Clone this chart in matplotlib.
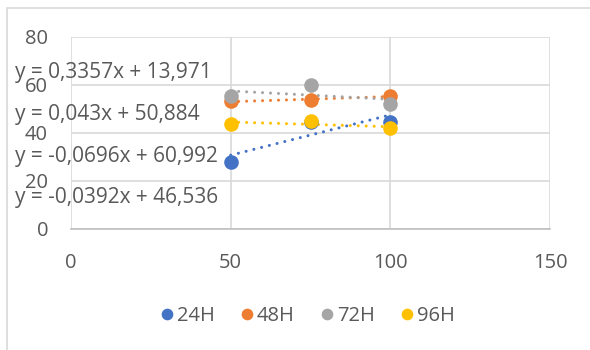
import matplotlib.pyplot as plt
import numpy as np
from matplotlib.patches import Rectangle

# dose levels and readings per exposure time
x = [50, 75, 100]
series = ['24H', '48H', '72H', '96H']
y24 = [28.0, 44.66, 44.785]
y48 = [53.29, 53.597, 55.44]
y72 = [55.4, 59.996, 51.92]
y96 = [43.874, 45.0, 41.914]
colors = ['#4472c4', '#ed7d31', '#a5a5a5', '#ffc000']

# trendline label heights (data units) as laid out on the chart
label_y = [65.4, 47.9, 30.0, 13.3]

plt.rcParams['font.family'] = ['Open Sans', 'DejaVu Sans']
txt = '#595959'
grid = '#d9d9d9'

fig = plt.figure(figsize=(5.9, 3.5), dpi=100)
ax = fig.add_axes([71/590, 1 - 229/350, (550 - 71)/590, (229 - 37)/350])

# chart area border
fig.patches.append(Rectangle((7/590, -0.1), 1.2, 1 - 8/350 + 0.1, transform=fig.transFigure,
                             fill=False, edgecolor='#d9d9d9', linewidth=1.2))

xs = np.linspace(50, 100, 50)
for name, ys, c, ly in zip(series, [y24, y48, y72, y96], colors, label_y):
    k, b = np.polyfit(x, ys, 1)
    ax.plot(xs, k*xs + b, linestyle=(0, (0.01, 2.6)), color=c, linewidth=2.2,
            dash_capstyle='round', zorder=2)
    ax.plot(x, ys, 'o', color=c, markersize=10.5, label=name, zorder=3,
            markeredgewidth=0)
    sign = '+' if b >= 0 else '-'
    lab = 'y = {:.4g}x {} {:.5g}'.format(k, sign, abs(b)).replace('.', ',')
    ax.text(-17.5, ly, lab, color=txt, fontsize=15, va='center', ha='left',
            clip_on=False, zorder=5)

ax.set_xlim(0, 150)
ax.set_ylim(0, 80)
ax.set_xticks([0, 50, 100, 150])
ax.set_yticks([0, 20, 40, 60, 80])
ax.grid(True, color=grid, linewidth=1.2)
ax.set_axisbelow(True)
for s in ax.spines.values():
    s.set_visible(False)
ax.spines['bottom'].set_visible(True)
ax.spines['bottom'].set_color('#bfbfbf')
ax.spines['bottom'].set_linewidth(1.2)
ax.tick_params(length=0, labelsize=14.5, colors=txt)
ax.tick_params(axis='x', pad=17)
ax.tick_params(axis='y', pad=16.5)

ax.legend(loc='center', bbox_to_anchor=(306/590, 1 - 316/350), bbox_transform=fig.transFigure,
          ncol=4, frameon=False, fontsize=14.5, labelcolor=txt, handletextpad=0.0,
          columnspacing=1.1, markerscale=0.8, handlelength=1.0)

fig.savefig('out.png', dpi=100)
